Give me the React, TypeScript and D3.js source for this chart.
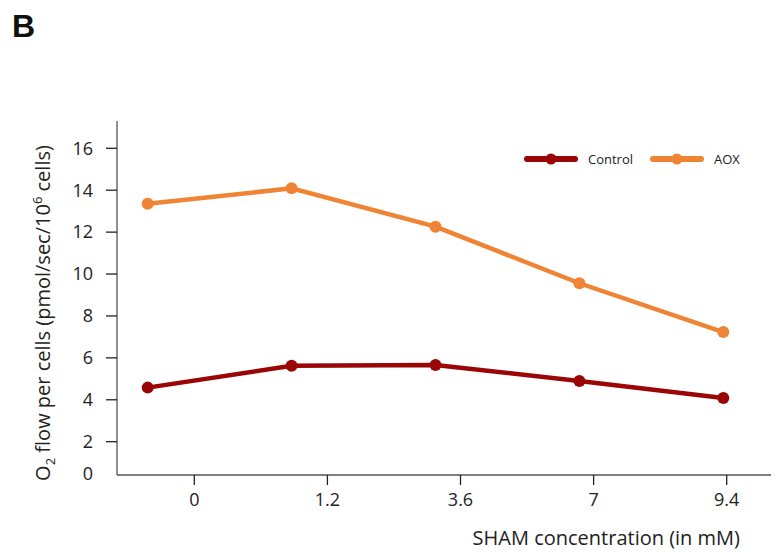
import React, { useEffect, useRef } from 'react';
import * as d3 from 'd3';

const categories = ['0', '1.2', '3.6', '7', '9.4'];
const controlValues = [4.58, 5.62, 5.66, 4.9, 4.08];
const aoxValues = [13.35, 14.09, 12.26, 9.56, 7.23];
const yTicks = [2, 4, 6, 8, 10, 12, 14, 16];

const series = [
  { name: 'Control', values: controlValues, color: '#9a0606' },
  { name: 'AOX', values: aoxValues, color: '#ee8434' },
];

const font = '"Open Sans", sans-serif';

const App = () => {
  const svgRef = useRef<SVGSVGElement>(null);

  useEffect(() => {
    const width = 779;
    const height = 557;
    const svg = d3.select(svgRef.current).attr('width', width).attr('height', height);
    svg.selectAll('*').remove();

    const left = 117;
    const right = 771;
    const top = 121;
    const bottom = 475;

    // points and tick marks don't line up in the original figure
    const xPoint = d3.scalePoint().domain(categories).range([147.7, 723.3]);
    const xTick = d3.scalePoint().domain(categories).range([194.3, 726.7]);
    const y = d3.scaleLinear().domain([0, 16]).range([483.6, 148.3]);

    svg
      .append('text')
      .attr('x', 12)
      .attr('y', 37)
      .text('B')
      .style('font-family', '"Liberation Sans", Arial, sans-serif')
      .style('font-weight', 'bold')
      .style('font-size', '32px')
      .style('fill', '#111');

    const axisColor = '#555';

    // y axis
    svg
      .append('line')
      .attr('x1', left)
      .attr('x2', left)
      .attr('y1', top)
      .attr('y2', bottom)
      .attr('stroke', axisColor)
      .attr('stroke-width', 1.3);

    const yAxis = svg.append('g');
    yTicks.forEach((t) => {
      yAxis
        .append('line')
        .attr('x1', left - 11)
        .attr('x2', left)
        .attr('y1', y(t))
        .attr('y2', y(t))
        .attr('stroke', '#222')
        .attr('stroke-width', 1.3);
      yAxis
        .append('text')
        .attr('x', 93)
        .attr('y', y(t))
        .attr('dy', '0.35em')
        .attr('text-anchor', 'end')
        .text(t)
        .style('font-family', font)
        .style('font-size', '18px')
        .style('fill', '#222');
    });
    yAxis
      .append('text')
      .attr('x', 93)
      .attr('y', bottom - 1)
      .attr('dy', '0.35em')
      .attr('text-anchor', 'end')
      .text('0')
      .style('font-family', font)
      .style('font-size', '18px')
      .style('fill', '#222');

    const yLabel = svg
      .append('text')
      .attr('transform', `translate(50,313) rotate(-90)`)
      .attr('text-anchor', 'middle')
      .style('font-family', font)
      .style('font-size', '20px')
      .style('fill', '#222');
    yLabel.append('tspan').text('O');
    yLabel.append('tspan').text('2').attr('dy', 5).style('font-size', '13px');
    yLabel.append('tspan').text(' flow per cells (pmol/sec/10').attr('dy', -5);
    yLabel.append('tspan').text('6').attr('dy', -8).style('font-size', '13px');
    yLabel.append('tspan').text(' cells)').attr('dy', 8);

    // x axis
    svg
      .append('line')
      .attr('x1', left)
      .attr('x2', right)
      .attr('y1', bottom)
      .attr('y2', bottom)
      .attr('stroke', axisColor)
      .attr('stroke-width', 1.3);

    categories.forEach((c) => {
      svg
        .append('line')
        .attr('x1', xTick(c))
        .attr('x2', xTick(c))
        .attr('y1', bottom)
        .attr('y2', bottom + 10)
        .attr('stroke', '#222')
        .attr('stroke-width', 1.3);
      svg
        .append('text')
        .attr('x', xTick(c))
        .attr('y', 506)
        .attr('text-anchor', 'middle')
        .text(c)
        .style('font-family', font)
        .style('font-size', '18px')
        .style('fill', '#222');
    });

    svg
      .append('text')
      .attr('x', 740)
      .attr('y', 545)
      .attr('text-anchor', 'end')
      .text('SHAM concentration (in mM)')
      .style('font-family', font)
      .style('font-size', '20px')
      .style('fill', '#222');

    // lines
    const line = d3
      .line<number>()
      .x((d, i) => xPoint(categories[i]) as number)
      .y((d) => y(d));

    series.forEach((s) => {
      svg
        .append('path')
        .datum(s.values)
        .attr('d', line)
        .attr('fill', 'none')
        .attr('stroke', s.color)
        .attr('stroke-width', 4.5);
      svg
        .selectAll(null)
        .data(s.values)
        .enter()
        .append('circle')
        .attr('cx', (d, i) => xPoint(categories[i]) as number)
        .attr('cy', (d) => y(d))
        .attr('r', 6)
        .attr('fill', s.color);
    });

    // legend
    const legendX = [527, 653];
    series.forEach((s, i) => {
      const g = svg.append('g').attr('transform', `translate(${legendX[i]},159)`);
      g.append('line')
        .attr('x1', 0)
        .attr('x2', 48)
        .attr('stroke', s.color)
        .attr('stroke-width', 6)
        .attr('stroke-linecap', 'round');
      g.append('circle').attr('cx', 24).attr('r', 5.5).attr('fill', s.color);
      g.append('text')
        .attr('x', 61)
        .attr('dy', '0.35em')
        .text(s.name)
        .style('font-family', font)
        .style('font-size', '13px')
        .style('fill', '#222');
    });
  }, []);

  return (
    <svg ref={svgRef} style={{ position: 'absolute', left: 0, top: 0 }}></svg>
  );
};

export default App;
